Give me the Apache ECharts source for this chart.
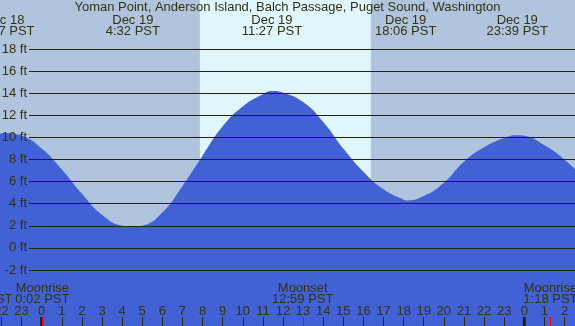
<!DOCTYPE html>
<html>
<head>
<meta charset="utf-8">
<script src="https://cdn.jsdelivr.net/npm/echarts@6/dist/echarts.min.js"></script>
<style>
  html, body { margin: 0; padding: 0; background: #b0c4de; }
  #chart { width: 575px; height: 326px; }
</style>
</head>
<body>
<div id="chart"></div>
<script>
// tide heights (hours from Dec 19 0:00 PST, feet)
const tideHours = [-3, -2, -1.88, -1, 0, 1, 2, 3, 4, 4.53, 5, 6, 7, 8, 9, 10, 11, 11.45, 12, 13,
  14, 15, 16, 17, 18, 18.1, 19, 20, 21, 22, 23, 23.65, 24, 25, 26, 27];
const tideFeet = [10.0, 10.35, 10.4, 10.15, 9.0, 7.1, 4.9, 3.0, 2.0, 1.9, 2.0, 3.2, 5.6, 8.35, 11.0, 12.8, 13.9, 14.2, 14.05, 13.2,
  11.4, 9.0, 6.9, 5.3, 4.35, 4.3, 4.7, 5.9, 7.8, 9.1, 9.95, 10.2, 10.15, 9.3, 8.0, 6.2];

// high / low labels at the top
const extremeHours = [-1.883, 4.533, 11.45, 18.1, 23.65];
const extremeDates = ['Dec 18', 'Dec 19', 'Dec 19', 'Dec 19', 'Dec 19'];
const extremeTimes = ['22:07 PST', '4:32 PST', '11:27 PST', '18:06 PST', '23:39 PST'];

// moon events at the bottom
const moonHours = [0.033, 12.983, 25.3];
const moonNames = ['Moonrise', 'Moonset', 'Moonrise'];
const moonTimes = ['0:02 PST', '12:59 PST', '1:18 PST'];

const midnights = [0, 24];
const sunrise = 7.867, sunset = 16.367;
const title = 'Yoman Point, Anderson Island, Balch Passage, Puget Sound, Washington';

const textColor = '#33330f';
const font = '13px "Liberation Sans", Arial, sans-serif';

const chart = echarts.init(document.getElementById('chart'));

const tideData = tideHours.map((h, i) => [h, tideFeet[i]]);

const option = {
  animation: false,
  backgroundColor: '#b0c4de',
  grid: [
    { left: -18.62, right: -9.6, top: 0, bottom: 0, outerBoundsMode: 'none', containLabel: false },
    { left: 29, right: 0, top: 49, bottom: 56, outerBoundsMode: 'none', containLabel: false }
  ],
  xAxis: [
    {
      type: 'value', gridIndex: 0, min: -3, max: 27, interval: 1, z: 5,
      splitLine: { show: false },
      axisLine: { show: false, onZero: false },
      axisTick: { show: true, inside: true, length: 9, lineStyle: { color: '#2a2a10', width: 1 } },
      axisLabel: {
        inside: true, margin: 8, color: textColor, fontSize: 13, fontFamily: '"Liberation Sans", Arial',
        formatter: v => String(((v % 24) + 24) % 24)
      }
    },
    { type: 'value', gridIndex: 1, min: 0, max: 1, show: false }
  ],
  yAxis: [
    { type: 'value', gridIndex: 0, min: -7.068, max: 22.434, show: false },
    {
      type: 'value', gridIndex: 1, min: -2, max: 18, interval: 2, z: 5,
      axisLine: { show: false, onZero: false },
      axisTick: { show: false },
      axisLabel: { margin: 2, color: textColor, fontSize: 13, fontFamily: '"Liberation Sans", Arial', formatter: '{value} ft' },
      splitLine: { show: true, lineStyle: { color: '#222211', width: 1 } }
    }
  ],
  series: [
    {
      // daylight band
      type: 'custom', xAxisIndex: 0, yAxisIndex: 0, z: 1, silent: true,
      data: [[sunrise, sunset]],
      renderItem: (params, api) => {
        const x0 = api.coord([api.value(0), 0])[0];
        const x1 = api.coord([api.value(1), 0])[0];
        return {
          type: 'rect',
          shape: { x: x0, y: params.coordSys.y, width: x1 - x0, height: params.coordSys.height },
          style: { fill: '#dff6fe' }
        };
      }
    },
    {
      type: 'line', xAxisIndex: 0, yAxisIndex: 0, z: 2,
      data: tideData,
      smooth: 0.5,
      showSymbol: false,
      lineStyle: { width: 0 },
      areaStyle: { color: '#4161d5', opacity: 1, origin: 'start' }
    },
    {
      // thick midnight ticks
      type: 'custom', xAxisIndex: 0, yAxisIndex: 0, z: 6, silent: true,
      data: midnights.map(h => [h]),
      renderItem: (params, api) => {
        const x = api.coord([api.value(0), 0])[0];
        const yb = params.coordSys.y + params.coordSys.height;
        return { type: 'rect', shape: { x: x - 1.5, y: yb - 9, width: 3, height: 9 }, style: { fill: '#1e1e0a' } };
      }
    },
    {
      // red moon ticks
      type: 'custom', xAxisIndex: 0, yAxisIndex: 0, z: 7, silent: true,
      data: moonHours.map(h => [h]),
      renderItem: (params, api) => {
        const x = api.coord([api.value(0), 0])[0];
        const yb = params.coordSys.y + params.coordSys.height;
        return { type: 'rect', shape: { x: Math.round(x), y: yb - 9, width: 1, height: 9 }, style: { fill: '#ff0000' } };
      }
    }
  ]
};

chart.setOption(option);

function label(text, x, y, align) {
  return {
    type: 'text', z: 20, silent: true,
    style: {
      text: text, x: x, y: y, fill: textColor, font: font,
      align: align || 'center', verticalAlign: 'middle',
      textAlign: align || 'center', textVerticalAlign: 'middle'
    }
  };
}

const px = h => chart.convertToPixel({ xAxisIndex: 0 }, h);
const graphics = [label(title, 287.5, 7.5)];
extremeHours.forEach((h, i) => {
  graphics.push(label(extremeDates[i], px(h), 20));
  graphics.push(label(extremeTimes[i], px(h), 31.5));
});
moonHours.forEach((h, i) => {
  graphics.push(label(moonNames[i], px(h), 288));
  graphics.push(label(moonTimes[i], px(h), 299.5));
});
// tail of an earlier label cut off at the left edge
graphics.push(label('PST', 12.5, 299.5, 'right'));

chart.setOption({ graphic: graphics });
</script>
</body>
</html>
